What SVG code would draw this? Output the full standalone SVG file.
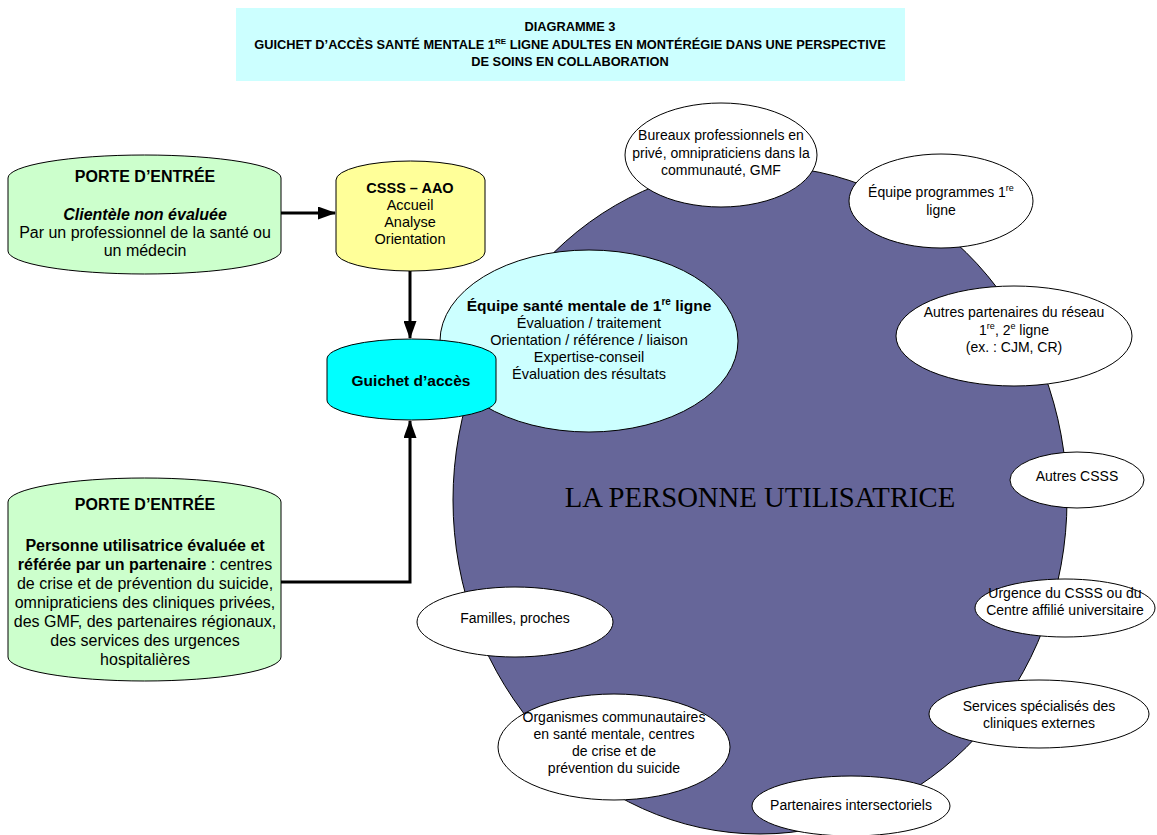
<svg xmlns="http://www.w3.org/2000/svg" width="1157" height="835" viewBox="0 0 1157 835">
<style>
text{font-family:"Liberation Sans",Arial,sans-serif;fill:#000;text-anchor:middle}
.t{font-size:12.8px;font-weight:bold}
.c16{font-size:16px}
.c14{font-size:14.5px}
.s{font-size:14px}
.b{font-weight:bold}
.bi{font-weight:bold;font-style:italic}
.shape{stroke:#000;stroke-width:1}
.white{fill:#fff;stroke:#000;stroke-width:1}
.conn{fill:none;stroke:#000;stroke-width:3}
.big{font-family:"Liberation Serif","Times New Roman",serif;font-size:28.7px}
</style>
<defs>
<marker id="ah" markerUnits="userSpaceOnUse" markerWidth="18" markerHeight="13" refX="17" refY="6.5" orient="auto">
<path d="M0,0 L18,6.5 L0,13 z" fill="#000"/>
</marker>
</defs>
<rect width="1157" height="835" fill="#fff"/>
<g id="title">
<rect x="236" y="8" width="669" height="73" fill="#CCFFFF"/>
<text class="t" x="570" y="31">DIAGRAMME 3</text>
<text class="t" x="570" y="49">GUICHET D’ACCÈS SANTÉ MENTALE 1<tspan font-size="8" dy="-5">RE</tspan><tspan dy="5"> LIGNE ADULTES EN MONTÉRÉGIE DANS UNE PERSPECTIVE</tspan></text>
<text class="t" x="570" y="66">DE SOINS EN COLLABORATION</text>
</g>
<g id="personne">
<ellipse class="shape" cx="760" cy="500" rx="307" ry="334" fill="#666699"/>
<text class="big" x="760" y="507">LA PERSONNE UTILISATRICE</text>
</g>
<g id="bureaux">
<ellipse class="white" cx="721" cy="155" rx="96" ry="52"/>
<text class="s" x="721" y="140">Bureaux professionnels en</text>
<text class="s" x="721" y="158">privé, omnipraticiens dans la</text>
<text class="s" x="721" y="175">communauté, GMF</text>
</g>
<g id="equipe-programmes">
<ellipse class="white" cx="941" cy="201" rx="92" ry="47"/>
<text class="s" x="941" y="197">Équipe programmes 1<tspan font-size="9" dy="-6">re</tspan></text>
<text class="s" x="941" y="215">ligne</text>
</g>
<g id="autres-partenaires">
<ellipse class="white" cx="1014" cy="336" rx="118" ry="50"/>
<text class="s" x="1014" y="317">Autres partenaires du réseau</text>
<text class="s" x="1014" y="335">1<tspan font-size="9" dy="-6">re</tspan><tspan dy="6">, 2</tspan><tspan font-size="9" dy="-6">e</tspan><tspan dy="6"> ligne</tspan></text>
<text class="s" x="1014" y="352">(ex. : CJM, CR)</text>
</g>
<g id="autres-csss">
<ellipse class="white" cx="1077" cy="480" rx="67" ry="28"/>
<text class="s" x="1077" y="481">Autres CSSS</text>
</g>
<g id="urgence">
<ellipse class="white" cx="1065" cy="608" rx="90" ry="29"/>
<text class="s" x="1065" y="598">Urgence du CSSS ou du</text>
<text class="s" x="1065" y="615">Centre affilié universitaire</text>
</g>
<g id="services">
<ellipse class="white" cx="1039" cy="714" rx="110" ry="34"/>
<text class="s" x="1039" y="711">Services spécialisés des</text>
<text class="s" x="1039" y="728">cliniques externes</text>
</g>
<g id="intersectoriels">
<ellipse class="white" cx="851" cy="806" rx="99" ry="30"/>
<text class="s" x="851" y="810">Partenaires intersectoriels</text>
</g>
<g id="organismes">
<ellipse class="white" cx="614" cy="747" rx="116" ry="53"/>
<text class="s" x="614" y="722">Organismes communautaires</text>
<text class="s" x="614" y="739">en santé mentale, centres</text>
<text class="s" x="614" y="756">de crise et de</text>
<text class="s" x="614" y="773">prévention du suicide</text>
</g>
<g id="familles">
<ellipse class="white" cx="515" cy="622" rx="98" ry="35"/>
<text class="s" x="515" y="623">Familles, proches</text>
</g>
<g id="equipe-sm">
<ellipse class="shape" cx="589" cy="341" rx="149" ry="91" fill="#CCFFFF"/>
<text class="b" font-size="15.5" x="589" y="311">Équipe santé mentale de 1<tspan font-size="10" dy="-6">re</tspan><tspan dy="6"> ligne</tspan></text>
<text class="c14" x="589" y="328">Évaluation / traitement</text>
<text class="c14" x="589" y="345">Orientation / référence / liaison</text>
<text class="c14" x="589" y="362">Expertise-conseil</text>
<text class="c14" x="589" y="379">Évaluation des résultats</text>
</g>
<g id="porte1">
<path class="shape" fill="#CCFFCC" d="M8,178 A136.5,23 0 0 1 281,178 L281,251 A136.5,23 0 0 1 8,251 Z"/>
<text class="c16 b" x="145" y="182">PORTE D’ENTRÉE</text>
<text class="c16 bi" x="145" y="220">Clientèle non évaluée</text>
<text class="c16" x="145" y="238">Par un professionnel de la santé ou</text>
<text class="c16" x="145" y="256">un médecin</text>
</g>
<g id="csss">
<path class="shape" fill="#FFFF99" d="M336,180 A74.5,19 0 0 1 485,180 L485,252 A74.5,19 0 0 1 336,252 Z"/>
<text class="c14 b" x="410" y="193">CSSS – AAO</text>
<text class="c14" x="410" y="210">Accueil</text>
<text class="c14" x="410" y="227">Analyse</text>
<text class="c14" x="410" y="244">Orientation</text>
</g>
<g id="porte2">
<path class="shape" fill="#CCFFCC" d="M8,502 A136.5,24 0 0 1 281,502 L281,657 A136.5,24 0 0 1 8,657 Z"/>
<text class="c16 b" x="145" y="510">PORTE D’ENTRÉE</text>
<text class="c16 b" x="145" y="551">Personne utilisatrice évaluée et</text>
<text class="c16" x="145" y="570"><tspan class="b">référée par un partenaire</tspan> : centres</text>
<text class="c16" x="145" y="589">de crise et de prévention du suicide,</text>
<text class="c16" x="145" y="608">omnipraticiens des cliniques privées,</text>
<text class="c16" x="145" y="627">des GMF, des partenaires régionaux,</text>
<text class="c16" x="145" y="646">des services des urgences</text>
<text class="c16" x="145" y="665">hospitalières</text>
</g>
<g id="connectors">
<path class="conn" d="M281,213 L335,213" marker-end="url(#ah)"/>
<path class="conn" d="M410,271 L410,338" marker-end="url(#ah)"/>
<path class="conn" d="M281,582 L410,582 L410,421" marker-end="url(#ah)"/>
</g>
<g id="guichet">
<path class="shape" fill="#00FFFF" d="M327,359 A84.5,20 0 0 1 496,359 L496,400 A84.5,20 0 0 1 327,400 Z"/>
<text class="b" font-size="15.5" x="411" y="386">Guichet d’accès</text>
</g>
</svg>
